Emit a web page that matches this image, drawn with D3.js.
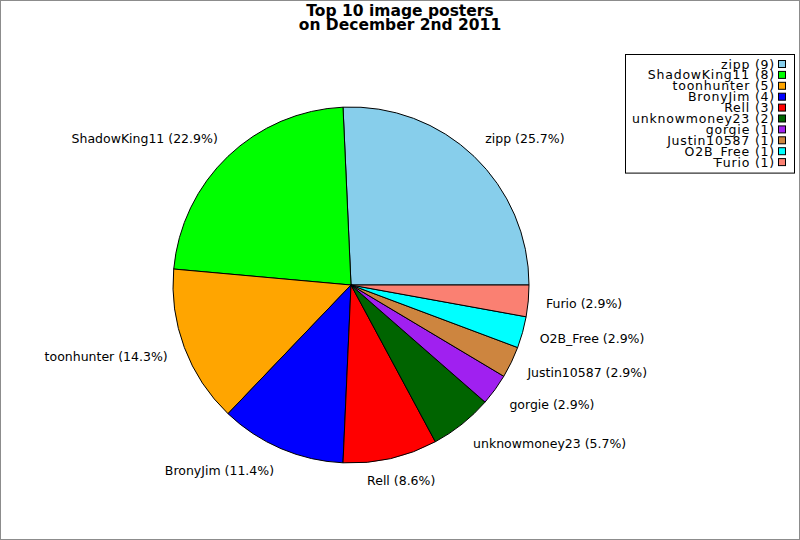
<!DOCTYPE html>
<html lang="en">
<head>
    <meta charset="UTF-8">
    <title>Top 10 image posters</title>
    <style>
        body, html {
            margin: 0;
            padding: 0;
            background: #fff;
            overflow: hidden;
        }
        svg text {
            font-family: "DejaVu Sans", sans-serif;
        }
    </style>
</head>
<body>
    <svg id="chart" width="800" height="540"></svg>

    <script src="https://cdnjs.cloudflare.com/ajax/libs/d3/7.8.5/d3.min.js"></script>
    <script>
        // Data
        const titleLines = ["Top 10 image posters", "on December 2nd 2011"];
        const names = ["zipp", "ShadowKing11", "toonhunter", "BronyJim", "Rell",
                       "unknowmoney23", "gorgie", "Justin10587", "O2B_Free", "Furio"];
        const counts = [9, 8, 5, 4, 3, 2, 1, 1, 1, 1];
        const colors = ["#87ceeb", "#00ff00", "#ffa500", "#0000ff", "#ff0000",
                        "#006400", "#a020f0", "#cd853f", "#00ffff", "#fa8072"];

        const width = 800, height = 540;
        const cx = 351, cy = 285, radius = 178;
        const svg = d3.select("#chart");

        // frame
        svg.append("rect")
            .attr("x", 0.5).attr("y", 0.5)
            .attr("width", width - 1).attr("height", height - 1)
            .attr("fill", "#fff")
            .attr("stroke", "#8c8c8c");

        // title
        svg.append("text")
            .attr("x", 400)
            .attr("text-anchor", "middle")
            .attr("font-size", 15.5)
            .attr("font-weight", "bold")
            .selectAll("tspan")
            .data(titleLines)
            .enter()
            .append("tspan")
            .attr("x", 400)
            .attr("y", (d, i) => 16 + i * 14)
            .text(d => d);

        // pie goes counter-clockwise from 3 o'clock
        const total = d3.sum(counts);
        const pie = d3.pie()
            .sort(null)
            .startAngle(Math.PI / 2)
            .endAngle(Math.PI / 2 - 2 * Math.PI);
        const arcs = pie(counts);
        const arc = d3.arc().innerRadius(0).outerRadius(radius);

        const g = svg.append("g").attr("transform", `translate(${cx},${cy})`);
        g.selectAll("path")
            .data(arcs)
            .enter()
            .append("path")
            .attr("d", arc)
            .attr("fill", (d, i) => colors[i])
            .attr("stroke", "#000")
            .attr("stroke-width", 1)
            .attr("stroke-linejoin", "round");

        // slice labels
        const fmt = d3.format(".1f");
        const labelR = radius * 1.1;
        const textH = 9.5;
        arcs.forEach((d, i) => {
            const theta = (d.startAngle + d.endAngle) / 2;
            let a = Math.PI / 2 - theta;           // math angle, ccw from east
            while (a < 0) a += 2 * Math.PI;
            while (a >= 2 * Math.PI) a -= 2 * Math.PI;
            const deg = a * 180 / Math.PI;
            const xt = cx + labelR * Math.cos(a);
            const yt = cy - labelR * Math.sin(a);

            let dx;
            if (deg <= 45 || deg >= 305) dx = 0;
            else if (deg <= 135) dx = (deg - 45) / 90;
            else if (deg <= 250) dx = 1;
            else dx = (305 - deg) / 55;

            let dy;
            if (deg >= 315) dy = (deg - 315) / 90;
            else if (deg <= 45) dy = Math.min(1, 0.5 + deg / 90);
            else if (deg <= 135) dy = 1;
            else if (deg <= 225) dy = 1 - (deg - 135) / 90;
            else dy = 0;

            const t = svg.append("text")
                .attr("font-size", 12.5)
                .attr("fill", "#000")
                .text(`${names[i]} (${fmt(counts[i] / total * 100)}%)`);
            const w = t.node().getComputedTextLength();
            t.attr("x", xt - dx * w)
             .attr("y", yt - dy * textH + textH);
        });

        // legend
        const legendRight = 794, legendTop = 54;
        const rowStep = 10.9;
        const textRight = 775;
        const legend = svg.append("g");
        const box = legend.append("rect")
            .attr("fill", "#fff")
            .attr("stroke", "#000");
        const rows = legend.selectAll("g.row")
            .data(names)
            .enter()
            .append("g")
            .attr("class", "row")
            .attr("transform", (d, i) => `translate(0,${legendTop + 10 + i * rowStep})`);
        rows.append("text")
            .attr("x", textRight)
            .attr("y", 4.5)
            .attr("text-anchor", "end")
            .attr("font-size", 12.5)
            .attr("letter-spacing", 0.8)
            .text((d, i) => `${d} (${counts[i]})`);
        rows.append("rect")
            .attr("x", 778.5)
            .attr("y", -3.5)
            .attr("width", 7)
            .attr("height", 7)
            .attr("fill", (d, i) => colors[i])
            .attr("stroke", "#000");

        let minLeft = textRight;
        rows.select("text").each(function () {
            minLeft = Math.min(minLeft, textRight - this.getComputedTextLength());
        });
        const boxLeft = Math.round(minLeft) - 7;
        box.attr("x", boxLeft + 0.5)
           .attr("y", legendTop + 0.5)
           .attr("width", legendRight - boxLeft)
           .attr("height", 10 + (names.length - 1) * rowStep + 10.5);
    </script>
</body>
</html>
